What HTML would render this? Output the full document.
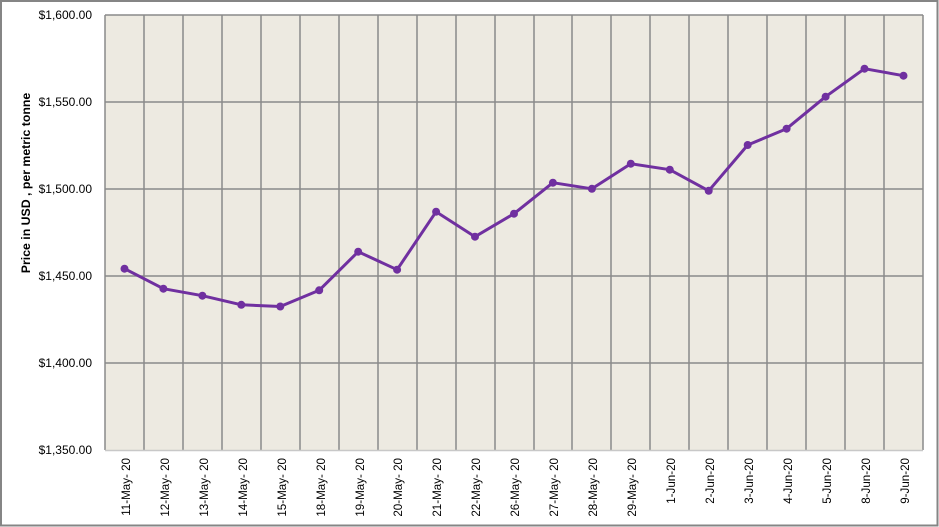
<!DOCTYPE html>
<html><head><meta charset="utf-8"><style>
html,body{margin:0;padding:0;background:#fff;}
svg{display:block;}
text{font-family:"Liberation Sans",sans-serif;fill:#000;}
</style></head><body>
<svg width="939" height="527" viewBox="0 0 939 527" xmlns="http://www.w3.org/2000/svg">
<rect x="1" y="1" width="936.5" height="524.5" fill="#fff" stroke="#858585" stroke-width="2"/>
<rect x="105" y="15" width="818" height="435" fill="#EDEAE1"/>
<g stroke="#8a8a8a" stroke-width="1.5" fill="none">
<line x1="105" y1="15" x2="923" y2="15"/>
<line x1="105" y1="102" x2="923" y2="102"/>
<line x1="105" y1="189" x2="923" y2="189"/>
<line x1="105" y1="276" x2="923" y2="276"/>
<line x1="105" y1="363" x2="923" y2="363"/>
<line x1="105" y1="15" x2="105" y2="450"/>
<line x1="144" y1="15" x2="144" y2="450"/>
<line x1="183" y1="15" x2="183" y2="450"/>
<line x1="222" y1="15" x2="222" y2="450"/>
<line x1="261" y1="15" x2="261" y2="450"/>
<line x1="300" y1="15" x2="300" y2="450"/>
<line x1="339" y1="15" x2="339" y2="450"/>
<line x1="378" y1="15" x2="378" y2="450"/>
<line x1="417" y1="15" x2="417" y2="450"/>
<line x1="456" y1="15" x2="456" y2="450"/>
<line x1="495" y1="15" x2="495" y2="450"/>
<line x1="534" y1="15" x2="534" y2="450"/>
<line x1="572" y1="15" x2="572" y2="450"/>
<line x1="611" y1="15" x2="611" y2="450"/>
<line x1="650" y1="15" x2="650" y2="450"/>
<line x1="689" y1="15" x2="689" y2="450"/>
<line x1="728" y1="15" x2="728" y2="450"/>
<line x1="767" y1="15" x2="767" y2="450"/>
<line x1="806" y1="15" x2="806" y2="450"/>
<line x1="845" y1="15" x2="845" y2="450"/>
<line x1="884" y1="15" x2="884" y2="450"/>
<line x1="923" y1="15" x2="923" y2="450"/>
</g>
<line x1="105" y1="450.5" x2="923" y2="450.5" stroke="#c8c8c8" stroke-width="1.5"/>
<g font-size="12" text-anchor="end">
<text x="92" y="19">$1,600.00</text>
<text x="92" y="106">$1,550.00</text>
<text x="92" y="193">$1,500.00</text>
<text x="92" y="280">$1,450.00</text>
<text x="92" y="367">$1,400.00</text>
<text x="92" y="454">$1,350.00</text>
</g>
<text transform="translate(30,183) rotate(-90)" font-size="12.3" font-weight="bold" text-anchor="middle">Price in USD , per metric tonne</text>
<g font-size="11.6" text-anchor="end">
<text transform="translate(130,458) rotate(-90)">11-May- 20</text>
<text transform="translate(169,458) rotate(-90)">12-May- 20</text>
<text transform="translate(208,458) rotate(-90)">13-May- 20</text>
<text transform="translate(247,458) rotate(-90)">14-May- 20</text>
<text transform="translate(286,458) rotate(-90)">15-May- 20</text>
<text transform="translate(325,458) rotate(-90)">18-May- 20</text>
<text transform="translate(364,458) rotate(-90)">19-May- 20</text>
<text transform="translate(402,458) rotate(-90)">20-May- 20</text>
<text transform="translate(441,458) rotate(-90)">21-May- 20</text>
<text transform="translate(480,458) rotate(-90)">22-May- 20</text>
<text transform="translate(519,458) rotate(-90)">26-May- 20</text>
<text transform="translate(558,458) rotate(-90)">27-May- 20</text>
<text transform="translate(597,458) rotate(-90)">28-May- 20</text>
<text transform="translate(636,458) rotate(-90)">29-May- 20</text>
<text transform="translate(675,458) rotate(-90)">1-Jun-20</text>
<text transform="translate(714,458) rotate(-90)">2-Jun-20</text>
<text transform="translate(753,458) rotate(-90)">3-Jun-20</text>
<text transform="translate(792,458) rotate(-90)">4-Jun-20</text>
<text transform="translate(831,458) rotate(-90)">5-Jun-20</text>
<text transform="translate(870,458) rotate(-90)">8-Jun-20</text>
<text transform="translate(909,458) rotate(-90)">9-Jun-20</text>
</g>
<polyline fill="none" stroke="#7030A0" stroke-width="3" stroke-linejoin="round" points="124.5,268.7 163.4,288.7 202.4,295.7 241.3,304.8 280.3,306.5 319.2,290.3 358.2,251.7 397.1,269.7 436.1,211.7 475,236.7 514,213.7 552.9,182.7 591.9,188.8 630.8,163.7 669.8,169.7 708.7,190.8 747.7,145 786.6,128.7 825.6,96.7 864.5,68.7 903.5,75.7"/>
<g fill="#7030A0">
<circle cx="124.5" cy="268.7" r="4"/>
<circle cx="163.4" cy="288.7" r="4"/>
<circle cx="202.4" cy="295.7" r="4"/>
<circle cx="241.3" cy="304.8" r="4"/>
<circle cx="280.3" cy="306.5" r="4"/>
<circle cx="319.2" cy="290.3" r="4"/>
<circle cx="358.2" cy="251.7" r="4"/>
<circle cx="397.1" cy="269.7" r="4"/>
<circle cx="436.1" cy="211.7" r="4"/>
<circle cx="475" cy="236.7" r="4"/>
<circle cx="514" cy="213.7" r="4"/>
<circle cx="552.9" cy="182.7" r="4"/>
<circle cx="591.9" cy="188.8" r="4"/>
<circle cx="630.8" cy="163.7" r="4"/>
<circle cx="669.8" cy="169.7" r="4"/>
<circle cx="708.7" cy="190.8" r="4"/>
<circle cx="747.7" cy="145" r="4"/>
<circle cx="786.6" cy="128.7" r="4"/>
<circle cx="825.6" cy="96.7" r="4"/>
<circle cx="864.5" cy="68.7" r="4"/>
<circle cx="903.5" cy="75.7" r="4"/>
</g>
</svg>
</body></html>
